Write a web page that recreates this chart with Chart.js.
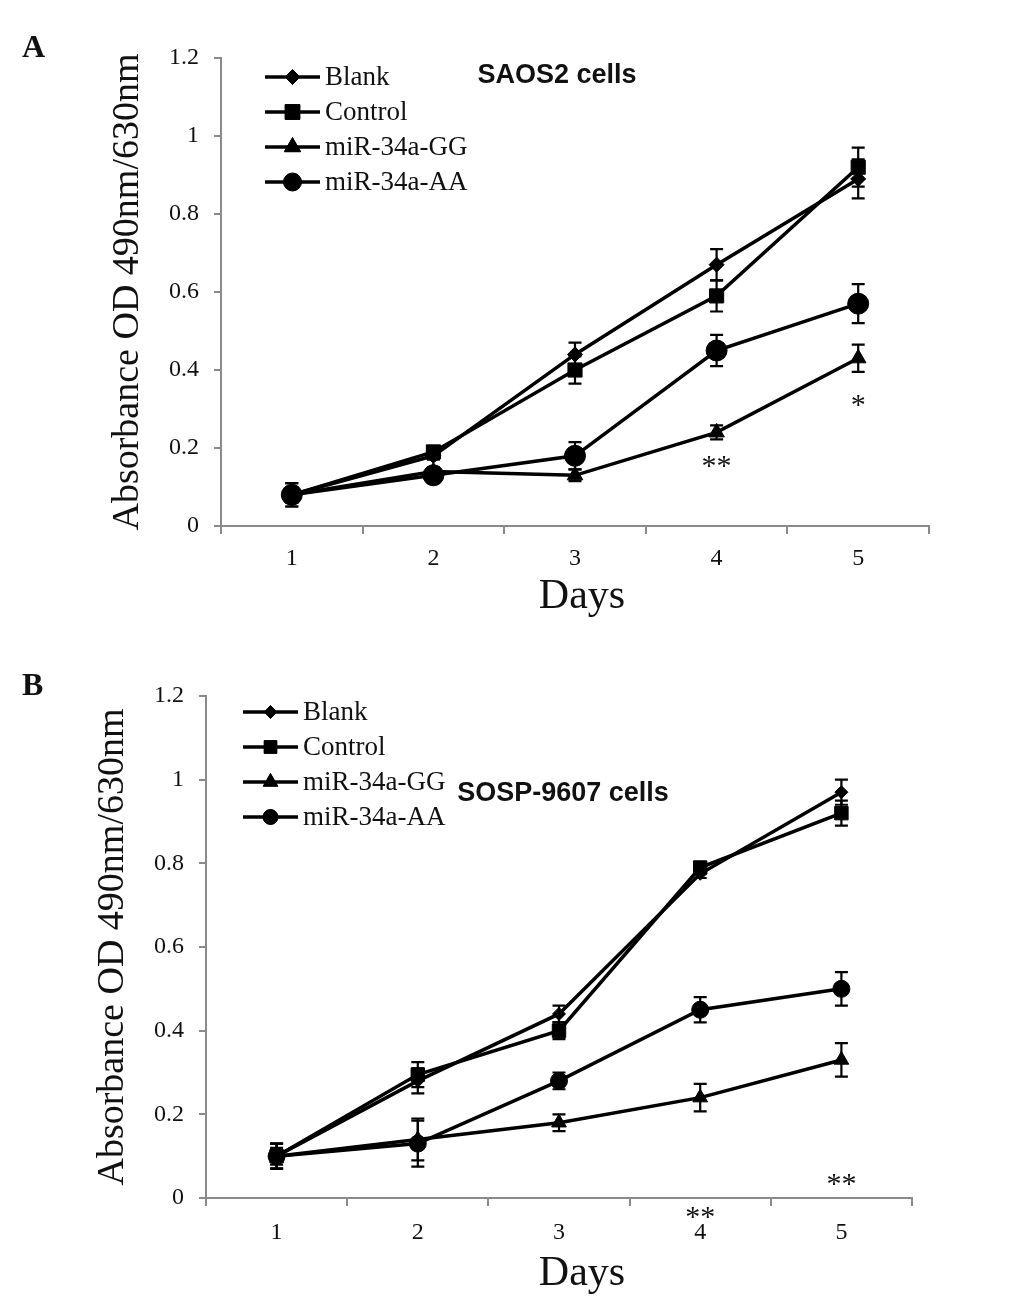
<!DOCTYPE html>
<html>
<head>
<meta charset="utf-8">
<script src="https://cdn.jsdelivr.net/npm/chart.js@4.4.1/dist/chart.umd.min.js"></script>
<style>
  html, body { margin: 0; padding: 0; background: #fff; }
  body { width: 1033px; height: 1299px; position: relative; overflow: hidden; }
  canvas { position: absolute; left: 0; }
  .panel { position: absolute; font-family: "Liberation Serif", serif; font-weight: bold; font-size: 32px; line-height: 32px; color: #111; z-index: 2; }
  .cells { position: absolute; font-family: "Liberation Sans", Arial, sans-serif; font-weight: bold; font-size: 27px; line-height: 27px; white-space: nowrap; color: #111; transform: translate(-50%, -50%); z-index: 2; }
</style>
</head>
<body>
<canvas id="chartA" width="1033" height="640" style="top:0"></canvas>
<canvas id="chartB" width="1033" height="659" style="top:640px"></canvas>
<div class="panel" style="left:22px; top:30px">A</div>
<div class="panel" style="left:22px; top:668px">B</div>
<div class="cells" style="left:557px; top:74px">SAOS2 cells</div>
<div class="cells" style="left:563px; top:792px">SOSP-9607 cells</div>

<script>
// categories and tick labels
const days = ['1', '2', '3', '4', '5'];
const groups = ['Blank', 'Control', 'miR-34a-GG', 'miR-34a-AA'];
const yTicks = [0, 0.2, 0.4, 0.6, 0.8, 1, 1.2];

// A: SAOS2 cells
const saosBlank = [0.08, 0.18, 0.44, 0.67, 0.89];
const saosBlankErr = [0.03, 0.01, 0.03, 0.04, 0.05];
const saosControl = [0.08, 0.19, 0.40, 0.59, 0.92];
const saosControlErr = [0.02, 0.01, 0.035, 0.04, 0.05];
const saosGG = [0.08, 0.14, 0.13, 0.24, 0.43];
const saosGGErr = [0.02, 0.01, 0.015, 0.018, 0.035];
const saosAA = [0.08, 0.13, 0.18, 0.45, 0.57];
const saosAAErr = [0.03, 0.02, 0.035, 0.04, 0.05];
const saosStars = ['', '', '', '**', '*'];
const saosStarY = [null, null, null, 0.17, 0.325];

// B: SOSP-9607 cells
const sospBlank = [0.10, 0.28, 0.44, 0.775, 0.97];
const sospBlankErr = [0.03, 0.03, 0.02, 0.01, 0.03];
const sospControl = [0.10, 0.295, 0.40, 0.79, 0.92];
const sospControlErr = [0.03, 0.03, 0.02, 0.01, 0.03];
const sospGG = [0.10, 0.14, 0.18, 0.24, 0.33];
const sospGGErr = [0.02, 0.05, 0.02, 0.033, 0.04];
const sospAA = [0.10, 0.13, 0.28, 0.45, 0.50];
const sospAAErr = [0.03, 0.055, 0.02, 0.03, 0.04];
const sospStars = ['', '', '', '**', '**'];
const sospStarY = [null, null, null, -0.03, 0.048];

const markers = ['rectRot', 'rect', 'triangle', 'circle'];
const axisGrey = '#8a8a8a';
const serif = '"Liberation Serif", "Times New Roman", serif';

// error bars under the markers
const errorBarPlugin = {
    id: 'errorBars',
    beforeDatasetsDraw(chart) {
        const ctx = chart.ctx;
        const y = chart.scales.y;
        ctx.save();
        ctx.strokeStyle = '#000';
        ctx.lineWidth = 2.2;
        chart.data.datasets.forEach((ds, i) => {
            const meta = chart.getDatasetMeta(i);
            meta.data.forEach((pt, j) => {
                const e = ds.errors[j];
                if (!e) return;
                const top = y.getPixelForValue(ds.data[j] + e);
                const bot = y.getPixelForValue(ds.data[j] - e);
                ctx.beginPath();
                ctx.moveTo(pt.x, top); ctx.lineTo(pt.x, bot);
                ctx.moveTo(pt.x - 6.5, top); ctx.lineTo(pt.x + 6.5, top);
                ctx.moveTo(pt.x - 6.5, bot); ctx.lineTo(pt.x + 6.5, bot);
                ctx.stroke();
            });
        });
        ctx.restore();
    }
};

// legend drawn as line + marker, inside the plot
const lineLegendPlugin = {
    id: 'lineLegend',
    afterDraw(chart, args, opts) {
        const ctx = chart.ctx;
        const area = chart.chartArea;
        ctx.save();
        chart.data.datasets.forEach((ds, i) => {
            const x0 = area.left + opts.x;
            const yy = area.top + opts.y + i * opts.gap;
            ctx.strokeStyle = '#000';
            ctx.lineWidth = 3.5;
            ctx.beginPath();
            ctx.moveTo(x0, yy); ctx.lineTo(x0 + opts.len, yy);
            ctx.stroke();
            ctx.fillStyle = '#000';
            ctx.lineWidth = 1;
            Chart.helpers.drawPoint(ctx, { pointStyle: ds.pointStyle, radius: opts.radii[i], rotation: 0, borderWidth: 1 }, x0 + opts.len / 2, yy);
            ctx.fill();
            ctx.fillStyle = '#111';
            ctx.font = '27px ' + serif;
            ctx.textBaseline = 'middle';
            ctx.textAlign = 'left';
            ctx.fillText(ds.label, x0 + opts.len + 5, yy + 1);
        });
        ctx.restore();
    }
};

// significance asterisks and the x axis title
const starPlugin = {
    id: 'stars',
    afterDraw(chart, args, opts) {
        const ctx = chart.ctx;
        const x = chart.scales.x, y = chart.scales.y;
        const area = chart.chartArea;
        ctx.save();
        ctx.fillStyle = '#111';
        ctx.font = '30px ' + serif;
        ctx.textAlign = 'center';
        ctx.textBaseline = 'alphabetic';
        opts.labels.forEach((s, j) => {
            if (!s) return;
            ctx.fillText(s, x.getPixelForValue(j), y.getPixelForValue(opts.values[j]) + 15);
        });
        ctx.font = '42px ' + serif;
        ctx.textBaseline = 'middle';
        ctx.fillText('Days', (area.left + area.right) / 2 + opts.titleDx, area.bottom + opts.titleDy);
        ctx.restore();
    }
};

function buildPanel(id, series, errs, radii, p) {
    return new Chart(document.getElementById(id), {
        type: 'line',
        data: {
            labels: days,
            datasets: groups.map((g, i) => ({
                label: g,
                data: series[i],
                errors: errs[i],
                borderColor: '#000',
                backgroundColor: '#000',
                borderWidth: 3.5,
                pointStyle: markers[i],
                pointRadius: radii[i],
                pointHoverRadius: radii[i],
                pointBorderWidth: 1,
                tension: 0
            }))
        },
        options: {
            responsive: false,
            animation: false,
            events: [],
            layout: { padding: { left: p.padLeft, top: p.padTop, right: p.padRight, bottom: 0 } },
            plugins: {
                legend: { display: false },
                tooltip: { enabled: false },
                lineLegend: { x: p.legX, y: p.legY, gap: 35, len: 55, radii: p.legRadii },
                stars: { labels: p.stars, values: p.starY, titleDx: p.titleDx, titleDy: p.titleDy }
            },
            scales: {
                x: {
                    offset: true,
                    grid: { offset: true, drawOnChartArea: false, color: axisGrey, lineWidth: 2, tickLength: 8 },
                    border: { color: axisGrey, width: 2 },
                    ticks: { color: '#111', font: { family: serif, size: 24 }, padding: p.xTickPad },
                    afterFit: s => { s.height = p.xHeight; }
                },
                y: {
                    min: 0,
                    max: 1.2,
                    afterBuildTicks: s => { s.ticks = yTicks.map(v => ({ value: v })); },
                    grid: { drawOnChartArea: false, color: axisGrey, lineWidth: 2, tickLength: 7 },
                    border: { color: axisGrey, width: 2 },
                    ticks: { color: '#111', font: { family: serif, size: 24 }, padding: 15, callback: v => String(+v.toFixed(1)) },
                    title: { display: true, text: 'Absorbance OD 490nm/630nm', color: '#111', font: { family: serif, size: 38 }, padding: { top: 4, bottom: 0 } },
                    afterFit: s => { s.width = 120; }
                }
            }
        },
        plugins: [errorBarPlugin, lineLegendPlugin, starPlugin]
    });
}

document.addEventListener('DOMContentLoaded', function() {
    buildPanel('chartA',
        [saosBlank, saosControl, saosGG, saosAA],
        [saosBlankErr, saosControlErr, saosGGErr, saosAAErr],
        [7.5, 10, 9, 10.5],
        { padLeft: 101, padTop: 58, padRight: 104, xHeight: 114, xTickPad: 10, titleDx: 7, titleDy: 71,
          legX: 44, legY: 19, legRadii: [7.5, 10.5, 9.5, 9], stars: saosStars, starY: saosStarY });

    buildPanel('chartB',
        [sospBlank, sospControl, sospGG, sospAA],
        [sospBlankErr, sospControlErr, sospGGErr, sospAAErr],
        [6.5, 9.5, 8.5, 8.5],
        { padLeft: 86, padTop: 56, padRight: 121, xHeight: 101, xTickPad: 12, titleDx: 23, titleDy: 76,
          legX: 37, legY: 16, legRadii: [6.5, 9, 8.5, 7.5], stars: sospStars, starY: sospStarY });
});
</script>
</body>
</html>
